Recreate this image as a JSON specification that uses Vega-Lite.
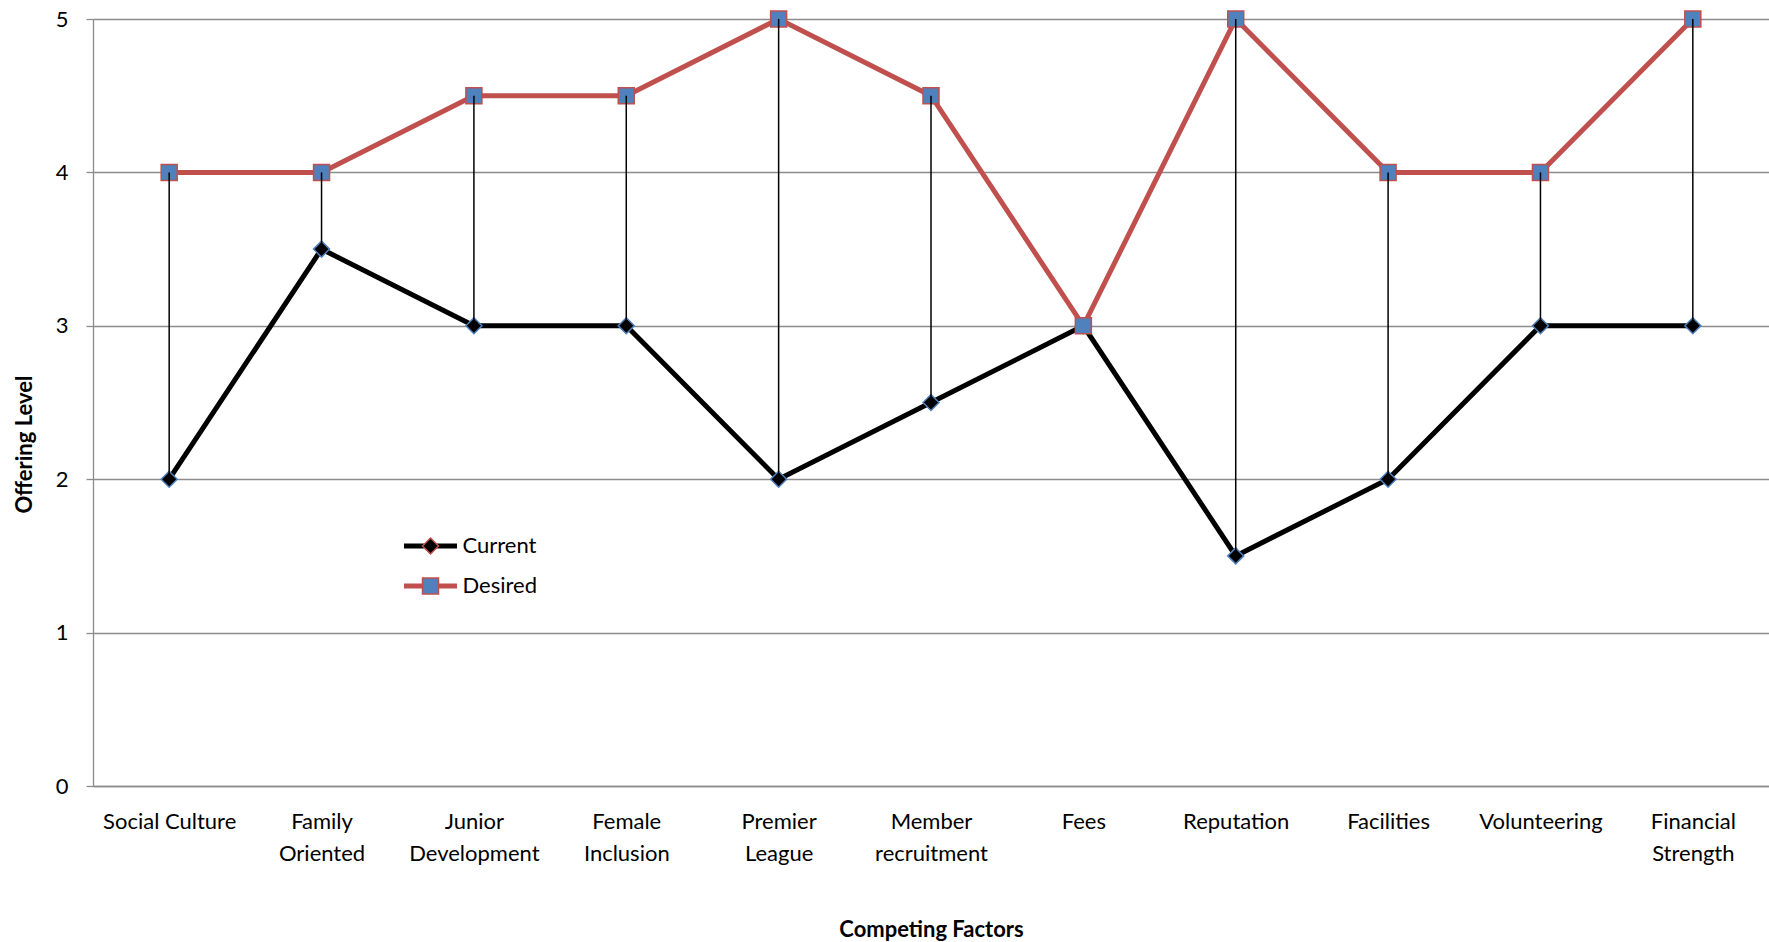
{
  "$schema": "https://vega.github.io/schema/vega-lite/v6.json",
  "width": 1676,
  "height": 767,
  "autosize": "none",
  "padding": {"left": 93, "top": 19, "right": 0, "bottom": 156},
  "background": "white",
  "config": {
    "font": "Lato",
    "view": {"stroke": null},
    "axis": {
      "labelFont": "Lato",
      "labelFontSize": 22,
      "labelColor": "#000000",
      "titleFont": "Lato",
      "titleFontSize": 22,
      "titleFontWeight": "bold",
      "titleColor": "#000000",
      "domainColor": "#8c8c8c",
      "domainWidth": 1.3,
      "tickColor": "#8c8c8c",
      "tickWidth": 1.3,
      "gridColor": "#8c8c8c",
      "gridWidth": 1.3
    },
    "axisX": {
      "ticks": false,
      "grid": false,
      "labelAngle": 0,
      "labelPadding": 42,
      "labelBaseline": "alphabetic",
      "labelLineHeight": 32,
      "titleY": 150,
      "titleBaseline": "alphabetic"
    },
    "axisY": {
      "grid": true,
      "tickSize": 7,
      "labelPadding": 18,
      "titleX": -69,
      "titleY": 425,
      "titleAngle": -90,
      "titleAlign": "center",
      "titleBaseline": "middle"
    },
    "legend": {
      "labelFont": "Lato",
      "labelFontSize": 22,
      "labelColor": "#000000",
      "padding": 0
    }
  },
  "data": {
    "values": [
      {"factor": "Social Culture", "Current": 2, "Desired": 4},
      {"factor": "Family Oriented", "Current": 3.5, "Desired": 4},
      {"factor": "Junior Development", "Current": 3, "Desired": 4.5},
      {"factor": "Female Inclusion", "Current": 3, "Desired": 4.5},
      {"factor": "Premier League", "Current": 2, "Desired": 5},
      {"factor": "Member recruitment", "Current": 2.5, "Desired": 4.5},
      {"factor": "Fees", "Current": 3, "Desired": 3},
      {"factor": "Reputation", "Current": 1.5, "Desired": 5},
      {"factor": "Facilities", "Current": 2, "Desired": 4},
      {"factor": "Volunteering", "Current": 3, "Desired": 4},
      {"factor": "Financial Strength", "Current": 3, "Desired": 5}
    ]
  },
  "encoding": {
    "x": {
      "field": "factor",
      "type": "nominal",
      "sort": null,
      "scale": {"type": "point", "padding": 0.5},
      "title": "Competing Factors",
      "axis": {"labelExpr": "datum.value == 'Social Culture' ? datum.value : split(datum.value, ' ')"}
    }
  },
  "layer": [
    {
      "transform": [{"fold": ["Current", "Desired"], "as": ["series", "value"]}],
      "mark": {"type": "line", "strokeWidth": 5, "strokeJoin": "miter"},
      "encoding": {
        "y": {
          "field": "value",
          "type": "quantitative",
          "scale": {"domain": [0, 5]},
          "title": "Offering Level",
          "axis": {"values": [0, 1, 2, 3, 4, 5], "format": "d"}
        },
        "stroke": {
          "field": "series",
          "type": "nominal",
          "scale": {"range": ["#000000", "#C0504D"]},
          "legend": {
            "orient": "none",
            "legendX": 320,
            "legendY": 516,
            "title": null,
            "symbolType": "M-3.12,0H3.12",
            "symbolSize": 289,
            "symbolStrokeWidth": 5,
            "symbolOffset": 6.5,
            "labelOffset": 21,
            "rowPadding": 18,
            "labelBaseline": "middle"
          }
        }
      }
    },
    {
      "transform": [{"fold": ["Current", "Desired"], "as": ["series", "value"]}],
      "mark": {"type": "point", "filled": true, "size": 256, "strokeWidth": 1.5, "opacity": 1},
      "encoding": {
        "y": {"field": "value", "type": "quantitative", "title": "Offering Level"},
        "shape": {
          "field": "series",
          "type": "nominal",
          "scale": {"domain": ["Current", "Desired"], "range": ["diamond", "square"]},
          "legend": {
            "orient": "none",
            "legendX": 320,
            "legendY": 516,
            "title": null,
            "symbolSize": 256,
            "symbolStrokeWidth": 1.5,
            "symbolOffset": 6.5,
            "labelOffset": 21,
            "rowPadding": 18,
            "labelOpacity": 0,
            "labelBaseline": "middle",
            "zindex": 2,
            "encode": {"symbols": {"enter": {"stroke": [{"test": "datum.value === 'Current'", "value": "#4F81BD"}, {"value": "#C0504D"}]}, "update": {"stroke": [{"test": "datum.value === 'Current'", "value": "#4F81BD"}, {"value": "#C0504D"}], "strokeWidth": {"value": 1.5}}}}
          }
        },
        "fill": {
          "field": "series",
          "type": "nominal",
          "scale": {"domain": ["Current", "Desired"], "range": ["#000000", "#4F81BD"]},
          "legend": {
            "orient": "none",
            "legendX": 320,
            "legendY": 516,
            "title": null,
            "symbolSize": 256,
            "symbolStrokeWidth": 1.5,
            "symbolOffset": 6.5,
            "labelOffset": 21,
            "rowPadding": 18,
            "labelOpacity": 0,
            "labelBaseline": "middle",
            "zindex": 2,
            "encode": {"symbols": {"enter": {"stroke": [{"test": "datum.value === 'Current'", "value": "#4F81BD"}, {"value": "#C0504D"}]}, "update": {"stroke": [{"test": "datum.value === 'Current'", "value": "#4F81BD"}, {"value": "#C0504D"}], "strokeWidth": {"value": 1.5}}}}
          }
        },
        "stroke": {"condition": {"test": "datum.series === 'Current'", "value": "#4F81BD"}, "value": "#C0504D"}
      }
    },
    {
      "mark": {"type": "rule", "color": "#000000", "strokeWidth": 1.5},
      "encoding": {
        "y": {"field": "Current", "type": "quantitative", "title": "Offering Level"},
        "y2": {"field": "Desired"}
      }
    }
  ]
}
